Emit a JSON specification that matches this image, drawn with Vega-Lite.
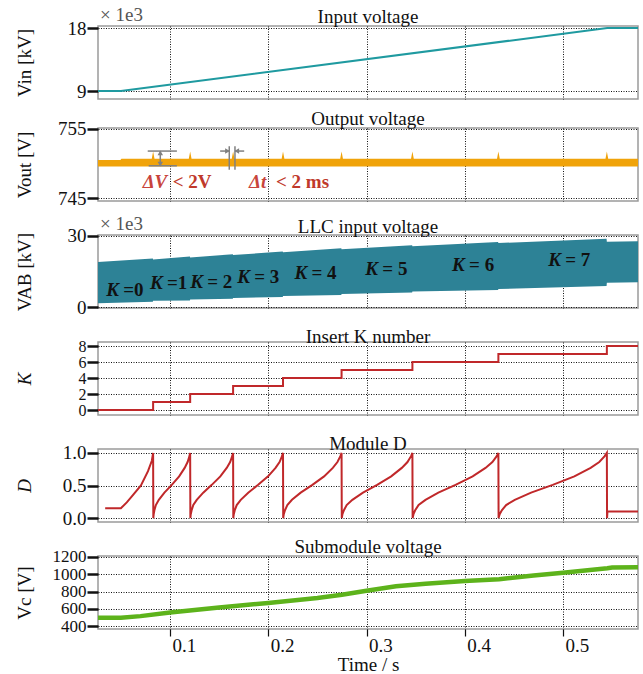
{
  "$schema": "https://vega.github.io/schema/vega-lite/v6.json",
  "padding": {"left": 14, "top": 5, "right": 6, "bottom": 0},
  "autosize": {"type": "pad"},
  "bounds": "flush",
  "spacing": 29,
  "datasets": {
    "vin": [{"t": 0.0267, "v": 9}, {"t": 0.05, "v": 9}, {"t": 0.545, "v": 18}, {"t": 0.5763, "v": 18}],
    "m1": [{"t": 0.0267, "v": 18.29, "s": "× 1e3"}],
    "m3": [{"t": 0.0267, "v": 30.4, "s": "× 1e3"}],
    "vout": [
      {"t": 0.0267, "lo": 749.55, "hi": 750.5}, {"t": 0.0495, "lo": 749.55, "hi": 750.5}, {"t": 0.0505, "lo": 749.55, "hi": 750.7},
      {"t": 0.0814, "lo": 749.55, "hi": 750.7}, {"t": 0.0828, "lo": 749.55, "hi": 751.75}, {"t": 0.0842, "lo": 749.55, "hi": 750.7},
      {"t": 0.1191, "lo": 749.55, "hi": 750.7}, {"t": 0.1205, "lo": 749.55, "hi": 751.75}, {"t": 0.1219, "lo": 749.55, "hi": 750.7},
      {"t": 0.1628, "lo": 749.55, "hi": 750.7}, {"t": 0.1642, "lo": 749.55, "hi": 751.75}, {"t": 0.1656, "lo": 749.55, "hi": 750.7},
      {"t": 0.2136, "lo": 749.55, "hi": 750.7}, {"t": 0.215, "lo": 749.55, "hi": 751.75}, {"t": 0.2164, "lo": 749.55, "hi": 750.7},
      {"t": 0.2732, "lo": 749.55, "hi": 750.7}, {"t": 0.2746, "lo": 749.55, "hi": 751.75}, {"t": 0.276, "lo": 749.55, "hi": 750.7},
      {"t": 0.3453, "lo": 749.55, "hi": 750.7}, {"t": 0.3467, "lo": 749.55, "hi": 751.75}, {"t": 0.3481, "lo": 749.55, "hi": 750.7},
      {"t": 0.4328, "lo": 749.55, "hi": 750.7}, {"t": 0.4342, "lo": 749.55, "hi": 751.75}, {"t": 0.4356, "lo": 749.55, "hi": 750.7},
      {"t": 0.5432, "lo": 749.55, "hi": 750.7}, {"t": 0.5446, "lo": 749.55, "hi": 751.75}, {"t": 0.546, "lo": 749.55, "hi": 750.7},
      {"t": 0.5763, "lo": 749.55, "hi": 750.7}
    ],
    "dims": [
      {"t": 0.0773, "t2": 0.107, "v": 751.8, "v2": 751.8},
      {"t": 0.0783, "t2": 0.107, "v": 749.67, "v2": 749.67},
      {"t": 0.0901, "t2": 0.0901, "v": 749.67, "v2": 751.8},
      {"t": 0.1603, "t2": 0.1603, "v": 749.1, "v2": 752.5},
      {"t": 0.1661, "t2": 0.1661, "v": 749.1, "v2": 752.5},
      {"t": 0.151, "t2": 0.1603, "v": 751.8, "v2": 751.8},
      {"t": 0.1661, "t2": 0.1755, "v": 751.8, "v2": 751.8}
    ],
    "heads": [
      {"t": 0.0901, "v": 751.55, "shape": "triangle-up"},
      {"t": 0.0901, "v": 749.92, "shape": "triangle-down"},
      {"t": 0.1585, "v": 751.8, "shape": "triangle-right"},
      {"t": 0.1679, "v": 751.8, "shape": "triangle-left"}
    ],
    "annI": [{"t": 0.0722, "v": 747.35, "s": "ΔV"}, {"t": 0.1804, "v": 747.35, "s": "Δt"}],
    "annB": [{"t": 0.1027, "v": 747.35, "s": "< 2V"}, {"t": 0.2079, "v": 747.35, "s": "< 2 ms"}],
    "vab": [
      {"t": 0.0267, "lo": 1.6, "hi": 19.0},
      {"t": 0.0825, "lo": 2.24, "hi": 20.47}, {"t": 0.0828, "lo": 2.64, "hi": 20.07},
      {"t": 0.1202, "lo": 2.81, "hi": 21.33}, {"t": 0.1205, "lo": 3.21, "hi": 20.93},
      {"t": 0.1639, "lo": 3.46, "hi": 22.32}, {"t": 0.1642, "lo": 3.86, "hi": 21.92},
      {"t": 0.2147, "lo": 4.22, "hi": 23.47}, {"t": 0.215, "lo": 4.62, "hi": 23.07},
      {"t": 0.2743, "lo": 5.12, "hi": 24.83}, {"t": 0.2746, "lo": 5.52, "hi": 24.43},
      {"t": 0.3464, "lo": 6.11, "hi": 26.1}, {"t": 0.3467, "lo": 6.51, "hi": 25.7},
      {"t": 0.4339, "lo": 7.24, "hi": 27.41}, {"t": 0.4342, "lo": 7.64, "hi": 27.01},
      {"t": 0.5443, "lo": 8.87, "hi": 28.87}, {"t": 0.5446, "lo": 10.3, "hi": 27.6},
      {"t": 0.5763, "lo": 10.5, "hi": 27.8}
    ],
    "klab": [
      {"t": 0.035, "v": 7.2, "k": "K", "r": "=0"},
      {"t": 0.0796, "v": 10.2, "k": "K", "r": "=1"},
      {"t": 0.1205, "v": 10.6, "k": "K", "r": "= 2"},
      {"t": 0.1684, "v": 12.7, "k": "K", "r": "= 3"},
      {"t": 0.2267, "v": 14.4, "k": "K", "r": "= 4"},
      {"t": 0.2988, "v": 16.2, "k": "K", "r": "= 5"},
      {"t": 0.3871, "v": 17.6, "k": "K", "r": "= 6"},
      {"t": 0.485, "v": 19.9, "k": "K", "r": "= 7"}
    ],
    "knum": [
      {"t": 0.0267, "k": 0}, {"t": 0.0828, "k": 1}, {"t": 0.1205, "k": 2}, {"t": 0.1642, "k": 3}, {"t": 0.215, "k": 4},
      {"t": 0.2746, "k": 5}, {"t": 0.3467, "k": 6}, {"t": 0.4342, "k": 7}, {"t": 0.5446, "k": 8}, {"t": 0.5763, "k": 8}
    ],
    "dmod": [
      {"t": 0.034, "d": 0.15}, {"t": 0.05, "d": 0.15}, {"t": 0.056, "d": 0.24}, {"t": 0.062, "d": 0.35}, {"t": 0.0704, "d": 0.5}, {"t": 0.0776, "d": 0.72}, {"t": 0.0815, "d": 0.88}, {"t": 0.0828, "d": 1.0},
      {"t": 0.083, "d": 0}, {"t": 0.0834, "d": 0.06}, {"t": 0.0841, "d": 0.12}, {"t": 0.0856, "d": 0.2}, {"t": 0.0886, "d": 0.28}, {"t": 0.0943, "d": 0.39}, {"t": 0.1018, "d": 0.51}, {"t": 0.1093, "d": 0.64}, {"t": 0.1149, "d": 0.77}, {"t": 0.1179, "d": 0.86}, {"t": 0.1198, "d": 0.95}, {"t": 0.1205, "d": 1.0},
      {"t": 0.1207, "d": 0}, {"t": 0.1211, "d": 0.06}, {"t": 0.122, "d": 0.12}, {"t": 0.1237, "d": 0.2}, {"t": 0.1272, "d": 0.28}, {"t": 0.1338, "d": 0.39}, {"t": 0.1425, "d": 0.51}, {"t": 0.1512, "d": 0.64}, {"t": 0.1577, "d": 0.77}, {"t": 0.1612, "d": 0.86}, {"t": 0.1633, "d": 0.95}, {"t": 0.1642, "d": 1.0},
      {"t": 0.1644, "d": 0}, {"t": 0.1649, "d": 0.06}, {"t": 0.1659, "d": 0.12}, {"t": 0.1679, "d": 0.2}, {"t": 0.172, "d": 0.28}, {"t": 0.1796, "d": 0.39}, {"t": 0.1897, "d": 0.51}, {"t": 0.1998, "d": 0.64}, {"t": 0.2074, "d": 0.77}, {"t": 0.2115, "d": 0.86}, {"t": 0.214, "d": 0.95}, {"t": 0.215, "d": 1.0},
      {"t": 0.2152, "d": 0}, {"t": 0.2158, "d": 0.06}, {"t": 0.217, "d": 0.12}, {"t": 0.2194, "d": 0.2}, {"t": 0.2241, "d": 0.28}, {"t": 0.233, "d": 0.39}, {"t": 0.2449, "d": 0.51}, {"t": 0.2568, "d": 0.64}, {"t": 0.2657, "d": 0.77}, {"t": 0.2704, "d": 0.86}, {"t": 0.2734, "d": 0.95}, {"t": 0.2746, "d": 1.0},
      {"t": 0.2748, "d": 0}, {"t": 0.2755, "d": 0.06}, {"t": 0.277, "d": 0.12}, {"t": 0.2798, "d": 0.2}, {"t": 0.2856, "d": 0.28}, {"t": 0.2964, "d": 0.39}, {"t": 0.3108, "d": 0.51}, {"t": 0.3251, "d": 0.64}, {"t": 0.3359, "d": 0.77}, {"t": 0.3417, "d": 0.86}, {"t": 0.3453, "d": 0.95}, {"t": 0.3467, "d": 1.0},
      {"t": 0.3469, "d": 0}, {"t": 0.3478, "d": 0.06}, {"t": 0.3495, "d": 0.12}, {"t": 0.353, "d": 0.2}, {"t": 0.36, "d": 0.28}, {"t": 0.3731, "d": 0.39}, {"t": 0.3906, "d": 0.51}, {"t": 0.408, "d": 0.64}, {"t": 0.4211, "d": 0.77}, {"t": 0.4281, "d": 0.86}, {"t": 0.4325, "d": 0.95}, {"t": 0.4342, "d": 1.0},
      {"t": 0.4344, "d": 0}, {"t": 0.4355, "d": 0.06}, {"t": 0.4377, "d": 0.12}, {"t": 0.4421, "d": 0.2}, {"t": 0.4509, "d": 0.28}, {"t": 0.4675, "d": 0.39}, {"t": 0.4895, "d": 0.51}, {"t": 0.5115, "d": 0.64}, {"t": 0.5281, "d": 0.77}, {"t": 0.5369, "d": 0.86}, {"t": 0.5424, "d": 0.95}, {"t": 0.5446, "d": 1.0},
      {"t": 0.5448, "d": 0.0}, {"t": 0.5452, "d": 0.1}, {"t": 0.5763, "d": 0.1}
    ],
    "vc": [
      {"t": 0.0267, "v": 497}, {"t": 0.05, "v": 495}, {"t": 0.07, "v": 515}, {"t": 0.1, "v": 558}, {"t": 0.15, "v": 615},
      {"t": 0.2, "v": 668}, {"t": 0.25, "v": 725}, {"t": 0.275, "v": 762}, {"t": 0.3, "v": 809}, {"t": 0.33, "v": 860},
      {"t": 0.36, "v": 890}, {"t": 0.4, "v": 921}, {"t": 0.435, "v": 943}, {"t": 0.47, "v": 985}, {"t": 0.5, "v": 1018},
      {"t": 0.545, "v": 1070}, {"t": 0.55, "v": 1078}, {"t": 0.5763, "v": 1080}
    ]
  },
  "config": {
    "font": "Liberation Serif",
    "view": {"stroke": "#9a9a9a", "strokeWidth": 1.5},
    "axis": {
      "labelFont": "Liberation Serif", "titleFont": "Liberation Serif",
      "labelFontSize": 19, "titleFontSize": 19, "titleFontWeight": "normal",
      "labelColor": "#111", "titleColor": "#111", "domain": false, "labelOverlap": false,
      "gridColor": "#111", "gridDash": [1, 1.5], "gridWidth": 1, "tickColor": "#111"
    },
    "axisY": {"tickSize": 11, "tickWidth": 2.5, "labelPadding": 1, "titleX": -74, "titleY": 36.5, "titleAngle": -90, "titleBaseline": "middle", "titleAlign": "center"},
    "title": {"font": "Liberation Serif", "fontSize": 19, "fontWeight": "normal", "color": "#111", "anchor": "middle", "offset": 3}
  },
  "vconcat": [
    {
      "title": {"text": "Input voltage", "dy": 24},
      "width": 540, "height": 73,
      "layer": [
        {
          "data": {"name": "vin"},
          "mark": {"type": "line", "color": "#1f9aa0", "strokeWidth": 2},
          "encoding": {
            "x": {"field": "t", "type": "quantitative", "scale": {"domain": [0.0267, 0.5763], "nice": false, "zero": false}, "axis": {"values": [0.1, 0.2, 0.3, 0.4, 0.5], "labels": false, "ticks": false, "title": null}},
            "y": {"field": "v", "type": "quantitative", "scale": {"domain": [7.86, 18.29], "nice": false, "zero": false}, "axis": {"values": [9, 15, 18], "format": "d", "title": "Vin [kV]"}}
          }
        },
        {
          "data": {"name": "m1"},
          "mark": {"type": "text", "align": "left", "baseline": "bottom", "dx": 2, "dy": -1, "fontSize": 19, "color": "#555"},
          "encoding": {"x": {"field": "t", "type": "quantitative"}, "y": {"field": "v", "type": "quantitative"}, "text": {"field": "s"}}
        }
      ]
    },
    {
      "bounds": "flush",
      "spacing": 34,
      "vconcat": [
        {
          "title": {"text": "Output voltage", "dy": 12},
          "width": 540, "height": 73,
          "layer": [
            {
              "data": {"name": "vout"},
              "mark": {"type": "area", "color": "#f0a30a", "opacity": 1},
              "encoding": {
                "x": {"field": "t", "type": "quantitative", "scale": {"domain": [0.0267, 0.5763], "nice": false, "zero": false}, "axis": {"values": [0.1, 0.2, 0.3, 0.4, 0.5], "labels": false, "ticks": false, "title": null}},
                "y": {"field": "lo", "type": "quantitative", "scale": {"domain": [744.57, 755.14], "nice": false, "zero": false}, "axis": {"values": [745, 750, 755], "format": "d", "title": "Vout [V]"}},
                "y2": {"field": "hi"}
              }
            },
            {
              "data": {"name": "dims"},
              "mark": {"type": "rule", "color": "#808080", "strokeWidth": 1.5},
              "encoding": {"x": {"field": "t", "type": "quantitative"}, "x2": {"field": "t2"}, "y": {"field": "v", "type": "quantitative"}, "y2": {"field": "v2"}}
            },
            {
              "data": {"name": "heads"},
              "mark": {"type": "point", "filled": true, "color": "#808080", "size": 30, "opacity": 1},
              "encoding": {"x": {"field": "t", "type": "quantitative"}, "y": {"field": "v", "type": "quantitative"}, "shape": {"field": "shape", "type": "nominal", "scale": null}}
            },
            {
              "data": {"name": "annI"},
              "mark": {"type": "text", "align": "left", "baseline": "middle", "fontSize": 19, "fontStyle": "italic", "fontWeight": "bold", "color": "#c8443c"},
              "encoding": {"x": {"field": "t", "type": "quantitative"}, "y": {"field": "v", "type": "quantitative"}, "text": {"field": "s"}}
            },
            {
              "data": {"name": "annB"},
              "mark": {"type": "text", "align": "left", "baseline": "middle", "fontSize": 19, "fontWeight": "bold", "color": "#c0392b"},
              "encoding": {"x": {"field": "t", "type": "quantitative"}, "y": {"field": "v", "type": "quantitative"}, "text": {"field": "s"}}
            }
          ]
        },
        {
          "title": {"text": "LLC input voltage", "dy": 25},
          "width": 540, "height": 73,
          "layer": [
            {
              "data": {"name": "vab"},
              "mark": {"type": "area", "color": "#2d8296", "opacity": 1},
              "encoding": {
                "x": {"field": "t", "type": "quantitative", "scale": {"domain": [0.0267, 0.5763], "nice": false, "zero": false}, "axis": {"values": [0.1, 0.2, 0.3, 0.4, 0.5], "labels": false, "ticks": false, "title": null}},
                "y": {"field": "lo", "type": "quantitative", "scale": {"domain": [-0.4, 30.4], "nice": false, "zero": false}, "axis": {"values": [0, 10, 20, 30], "format": "d", "title": "VAB   [kV]"}},
                "y2": {"field": "hi"}
              }
            },
            {
              "data": {"name": "klab"},
              "mark": {"type": "text", "align": "left", "baseline": "middle", "fontSize": 19, "fontStyle": "italic", "fontWeight": "bold", "color": "#111"},
              "encoding": {"x": {"field": "t", "type": "quantitative"}, "y": {"field": "v", "type": "quantitative"}, "text": {"field": "k"}}
            },
            {
              "data": {"name": "klab"},
              "mark": {"type": "text", "align": "left", "baseline": "middle", "fontSize": 19, "fontWeight": "bold", "color": "#111", "dx": 17},
              "encoding": {"x": {"field": "t", "type": "quantitative"}, "y": {"field": "v", "type": "quantitative"}, "text": {"field": "r"}}
            },
            {
              "data": {"name": "m3"},
              "mark": {"type": "text", "align": "left", "baseline": "bottom", "dx": 2, "dy": -1, "fontSize": 19, "color": "#555"},
              "encoding": {"x": {"field": "t", "type": "quantitative"}, "y": {"field": "v", "type": "quantitative"}, "text": {"field": "s"}}
            }
          ]
        },
        {
          "title": {"text": "Insert K number", "dy": 12},
          "width": 540, "height": 73,
          "data": {"name": "knum"},
          "mark": {"type": "line", "color": "#c0282a", "strokeWidth": 2, "interpolate": "step-after"},
          "encoding": {
            "x": {"field": "t", "type": "quantitative", "scale": {"domain": [0.0267, 0.5763], "nice": false, "zero": false}, "axis": {"values": [0.1, 0.2, 0.3, 0.4, 0.5], "labels": false, "ticks": false, "title": null}},
            "y": {"field": "k", "type": "quantitative", "scale": {"domain": [-0.625, 8.5], "nice": false, "zero": false}, "axis": {"values": [0, 2, 4, 6, 8], "format": "d", "labelFontSize": 16, "title": "K", "titleFontStyle": "italic"}}
          }
        },
        {
          "title": {"text": "Module D", "dy": 13},
          "width": 540, "height": 73,
          "data": {"name": "dmod"},
          "mark": {"type": "line", "color": "#c0282a", "strokeWidth": 2},
          "encoding": {
            "x": {"field": "t", "type": "quantitative", "scale": {"domain": [0.0267, 0.5763], "nice": false, "zero": false}, "axis": {"values": [0.1, 0.2, 0.3, 0.4, 0.5], "labels": false, "ticks": false, "title": null}},
            "y": {"field": "d", "type": "quantitative", "scale": {"domain": [-0.06, 1.06], "nice": false, "zero": false}, "axis": {"values": [0, 0.5, 1], "format": ".1f", "title": "D", "titleFontStyle": "italic"}}
          }
        },
        {
          "title": {"text": "Submodule voltage", "dy": 12},
          "width": 540, "height": 73,
          "data": {"name": "vc"},
          "mark": {"type": "line", "color": "#5db31b", "strokeWidth": 4.5},
          "encoding": {
            "x": {"field": "t", "type": "quantitative", "scale": {"domain": [0.0267, 0.5763], "nice": false, "zero": false}, "axis": {"values": [0.1, 0.2, 0.3, 0.4, 0.5], "format": ".1f", "labels": true, "ticks": true, "tickSize": 7, "tickWidth": 1.2, "labelAlign": "left", "labelOffset": 2, "labelPadding": 0, "labelBaseline": "top", "title": "Time / s", "titlePadding": 0}},
            "y": {"field": "v", "type": "quantitative", "scale": {"domain": [366, 1211], "nice": false, "zero": false}, "axis": {"values": [400, 600, 800, 1000, 1200], "format": "d", "labelFontSize": 17, "title": "Vc [V]"}}
          }
        }
      ]
    }
  ]
}
